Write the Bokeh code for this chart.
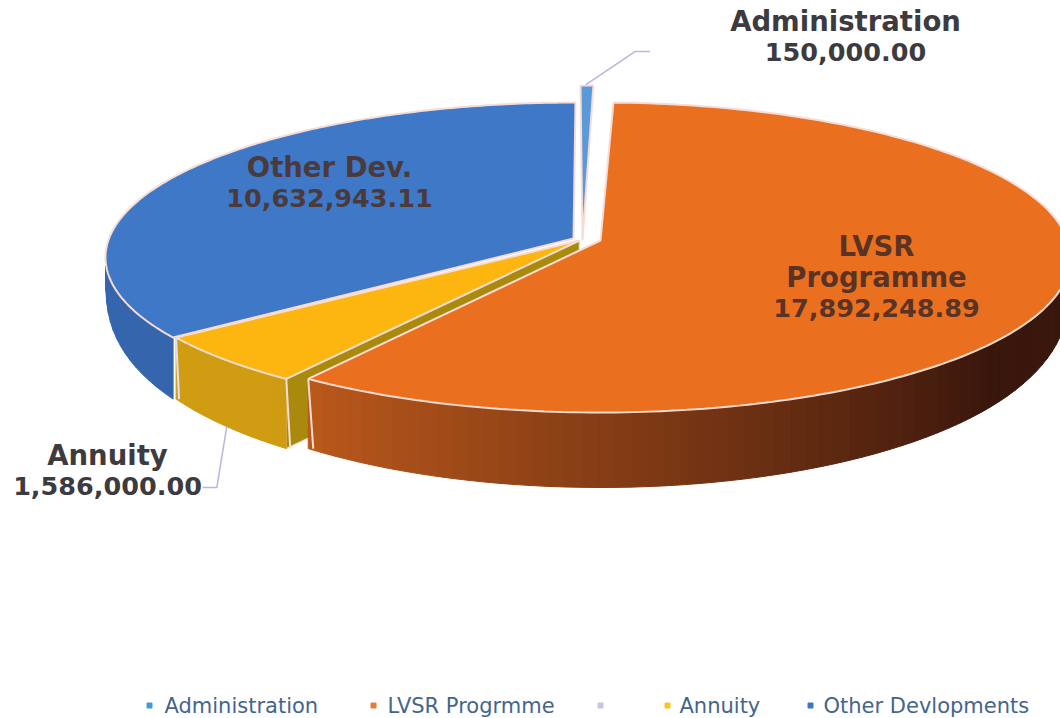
import numpy as np
from bokeh.plotting import figure
from bokeh.embed import file_html
from bokeh.resources import INLINE
from bokeh.core.properties import value
from bokeh.models import ColumnDataSource

categories = ["Administration", "LVSR Programme", "Annuity", "Other Dev."]
values = [150000.00, 17892248.89, 1586000.00, 10632943.11]
legend_labels = ["Administration", "LVSR Progrmme", "", "Annuity", "Other Devlopments"]
value_labels = ["150,000.00", "17,892,248.89", "1,586,000.00", "10,632,943.11"]

CX, CY, RX, RY, DEPTH = 578, 257, 470, 155, 75
TOP = ["#5b9ad8", "#ea701f", "#fdb50f", "#3f78c6"]
OFFS = [(2, -17), (22, 0), (0, 0), (-3, 0)]
APEX = [(582, 240), (600, 240), (579, 240), (573, 238)]
WALL_A = ["#5b9ad8", "#bd5a1c", "#cf9c12", "#3566ad"]
WALL_B = ["#5b9ad8", "#3a170d", "#c79512", "#3566ad"]
TEXT = "#3d3a40"
FONT = value("DejaVu Sans")

p = figure(width=1060, height=718, x_range=(0, 1060), y_range=(718, 0),
           output_backend="svg", toolbar_location=None, min_border=0)
p.axis.visible = False
p.grid.visible = False
p.outline_line_color = None
p.background_fill_color = "white"


def to_param(theta_deg):
    return theta_deg - 6.7 * np.sin(np.radians(theta_deg))


def pt(phi, off):
    r = np.radians(phi)
    return CX + off[0] + RX * np.sin(r), CY + off[1] - RY * np.cos(r)


def depth(phi):
    return DEPTH * abs(np.cos(np.radians(phi))) ** 0.3


def hex_mix(a, b, t):
    ca = [int(a[i:i + 2], 16) for i in (1, 3, 5)]
    cb = [int(b[i:i + 2], 16) for i in (1, 3, 5)]
    return "#%02x%02x%02x" % tuple(int(x + (y - x) * t) for x, y in zip(ca, cb))


edges = np.concatenate([[0], np.cumsum(values)]) / np.sum(values) * 360
spans = [(to_param(edges[i]), to_param(edges[i + 1])) for i in range(4)]
EDGE = "#f7dcd6"


def cut_face(i, phi):
    x, y = pt(phi, OFFS[i])
    ax, ay = APEX[i]
    d = depth(phi)
    return [ax, x, x, ax], [ay, y, y + d, ay + d]


def draw(i):
    a, b = spans[i]
    off = OFFS[i]
    lo, hi = max(a, 90), min(b, 270)
    if hi > lo:
        n = max(int((hi - lo) / 2), 1)
        ph = np.linspace(lo, hi, n + 1)
        xs, ys, cs = [], [], []
        for k in range(n):
            x0, y0 = pt(ph[k], off)
            x1, y1 = pt(ph[k + 1], off)
            xs.append([x0, x1, x1, x0])
            ys.append([y0, y1, y1 + depth(ph[k + 1]), y0 + depth(ph[k])])
            t = ((ph[k] + ph[k + 1]) / 2 - 125) / 95
            cs.append(hex_mix(WALL_B[i], WALL_A[i], float(np.clip(t, 0, 1))))
        p.patches(xs=xs, ys=ys, fill_color=cs, line_color=cs, line_width=1)
    ph = np.linspace(a, b, 200)
    xy = [pt(v, off) for v in ph]
    p.patch([APEX[i][0]] + [q[0] for q in xy], [APEX[i][1]] + [q[1] for q in xy],
            fill_color=TOP[i], line_color=EDGE, line_width=2)


draw(3)
draw(0)
fx, fy = cut_face(2, spans[2][0])
p.patch(fx, fy, fill_color="#a98a0c", line_color=EDGE, line_width=1.5)
draw(2)
x0, y0 = pt(spans[2][0], OFFS[2])
p.line([x0, x0 + 4], [y0, y0 + depth(spans[2][0])], line_color=EDGE, line_width=2)
x0, y0 = pt(spans[3][0], OFFS[3])
p.line([x0 + 3, x0 + 6], [y0, y0 + depth(spans[3][0])], line_color="#dfe0f2", line_width=2)
draw(1)
x0, y0 = pt(spans[1][1], OFFS[1])
p.line([x0, x0 + 5], [y0, y0 + depth(spans[1][1])], line_color=EDGE, line_width=2)

lx, ly = pt((spans[0][0] + spans[0][1]) / 2, OFFS[0])
p.line([lx - 1, lx + 48, lx + 63], [ly - 1, ly - 34, ly - 34], line_color="#b9b4e0", line_width=1.5)
phi_a = spans[2][0] + 10
lx, ly = pt(phi_a, OFFS[2])
ly = ly + depth(phi_a)
p.line([lx, lx - 10, lx - 24], [ly, ly + 61, ly + 61], line_color="#b9b4e0", line_width=1.5)

lab_x = [845, 876, 107, 329]
lab_top = [20, 245, 454, 166]
line_h = 31
WORD_SIZE, NUM_SIZE = "27.5px", "25.5px"
rows = {"x": [], "y": [], "t": [], "c": [], "s": []}
label_lines = [[categories[0], value_labels[0]],
               ["LVSR", "Programme", value_labels[1]],
               [categories[2], value_labels[2]],
               [categories[3], value_labels[3]]]
label_cols = [TEXT, "#5a3324", TEXT, "#4a3a3c"]
for i, lines in enumerate(label_lines):
    for j, s in enumerate(lines):
        rows["x"].append(lab_x[i])
        rows["y"].append(lab_top[i] + j * line_h)
        rows["t"].append(s)
        rows["c"].append(label_cols[i])
        rows["s"].append(NUM_SIZE if s in value_labels else WORD_SIZE)
p.text("x", "y", text="t", text_color="c", source=ColumnDataSource(rows), text_font=FONT,
       text_font_style="bold", text_font_size="s", text_align="center", text_baseline="middle")

leg_sq = [149, 373, 600, 667, 810]
leg_tx = [164, 387, 679, 679, 823]
leg_col = ["#3f9be0", "#ea7a35", "#c9c3ea", "#fcc419", "#3b78c4"]
p.scatter(leg_sq, [705] * 5, marker="square", size=5, color=leg_col)
keep = [i for i, s in enumerate(legend_labels) if s]
p.text([leg_tx[i] for i in keep], [705] * len(keep), text=[legend_labels[i] for i in keep],
       text_color="#44658c", text_font=FONT, text_font_size="21px",
       text_baseline="middle")

open("out.html", "w").write(file_html(p, INLINE))
